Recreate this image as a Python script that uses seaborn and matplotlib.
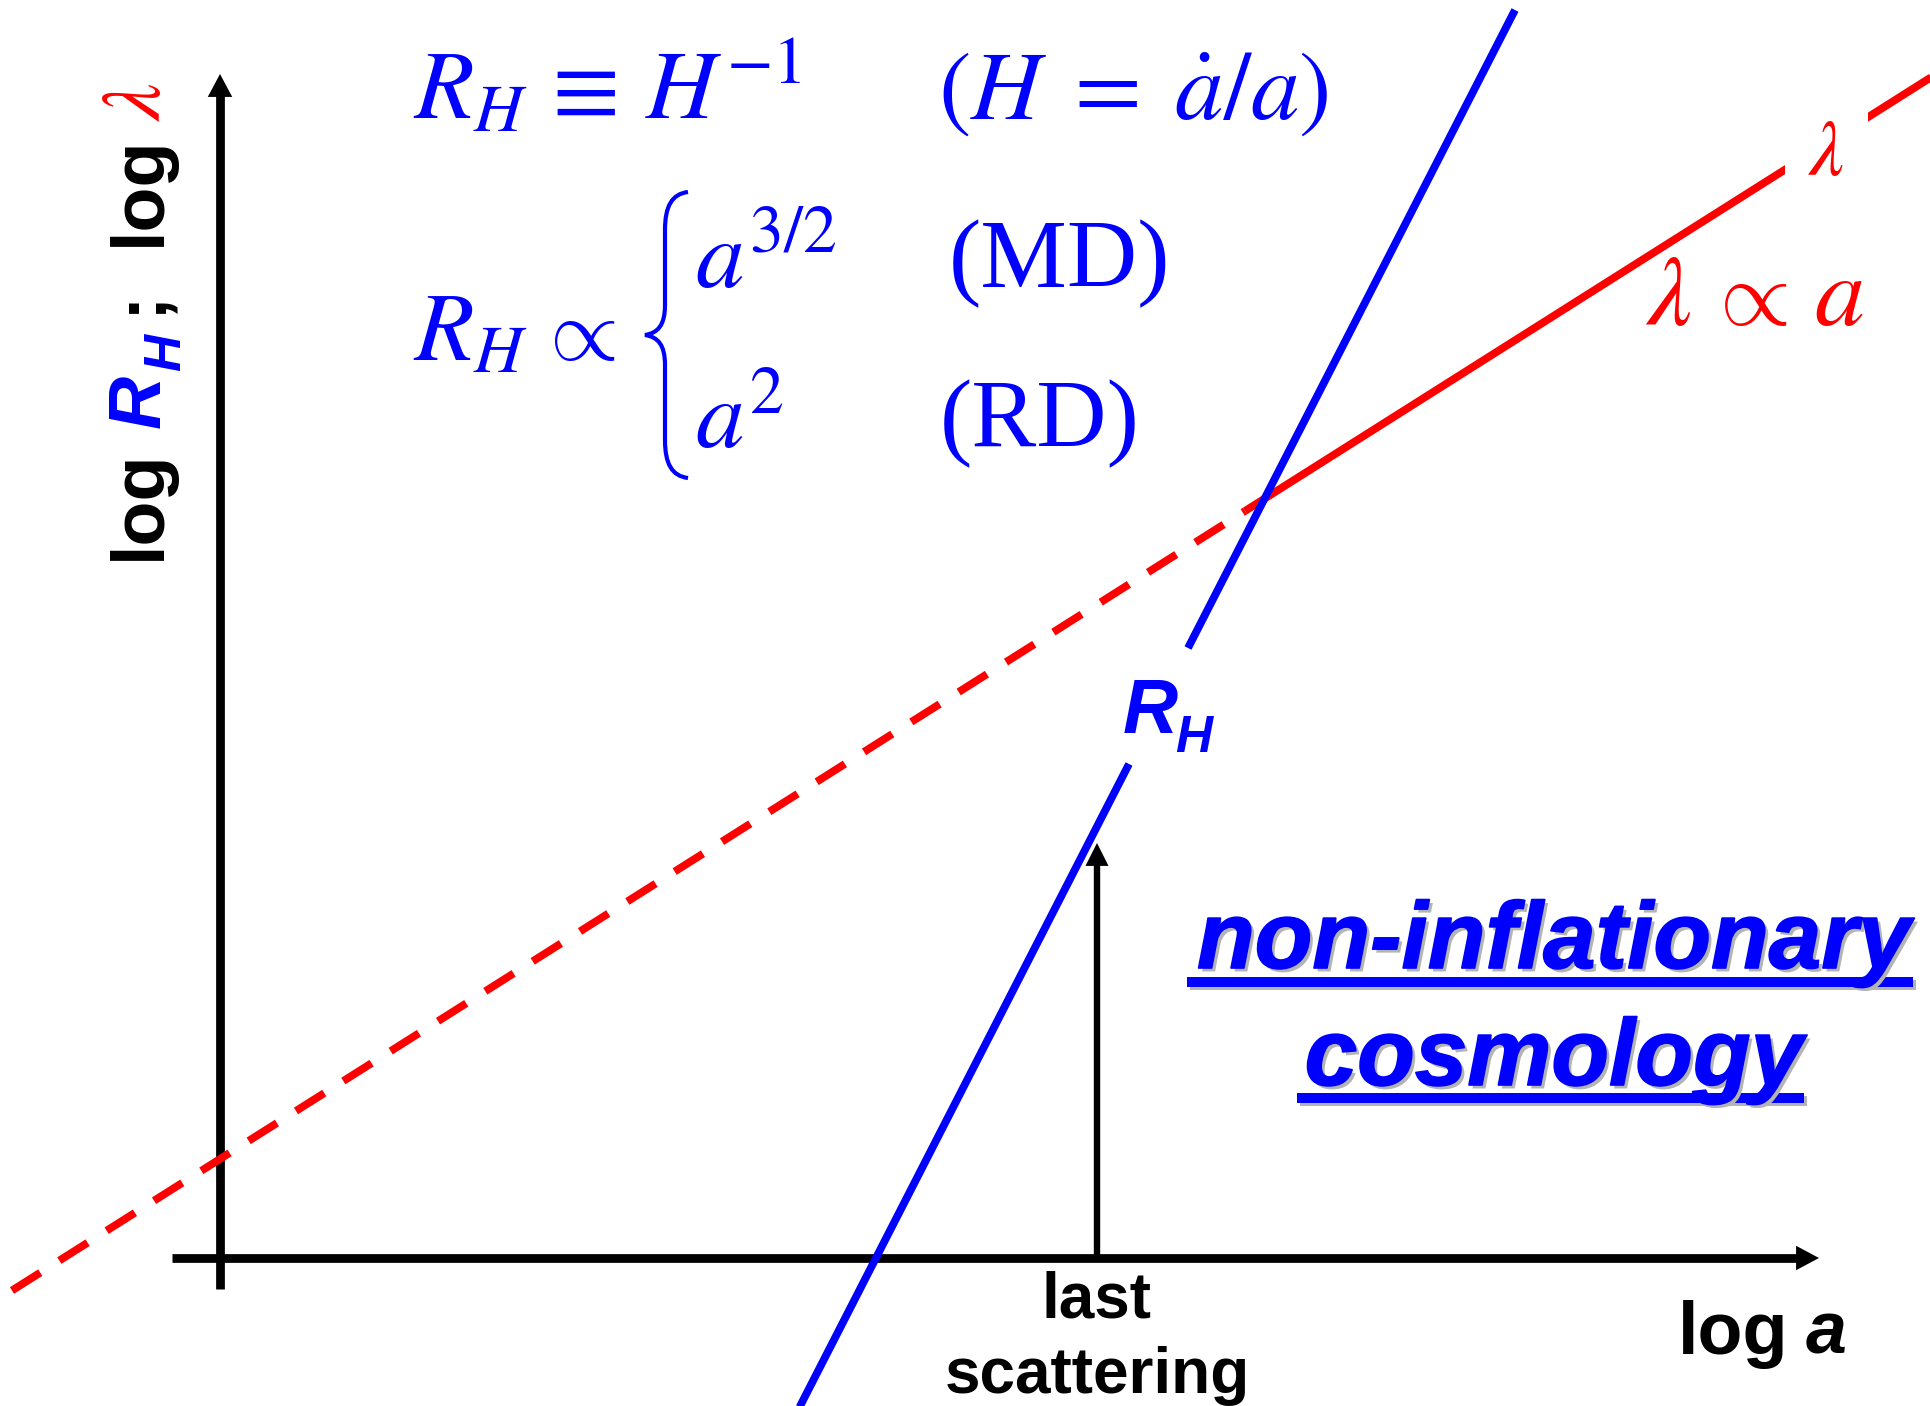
import matplotlib
matplotlib.use("Agg")
import matplotlib.pyplot as plt
import matplotlib.patheffects as pe
from matplotlib.path import Path
from matplotlib.patches import PathPatch
import seaborn as sns

# ---- values: log a on x, log length on y (axes cross at the origin) ----
lambda_dashed_loga = [-2.08, 10.25]
lambda_dashed_logl = [-0.325, 7.47]
lambda_solid_loga = [10.25, 17.40]
lambda_solid_logl = [7.47, 11.99]

rh_lower_loga = [5.75, 9.09]
rh_lower_logr = [-1.58, 4.94]
rh_upper_loga = [9.68, 12.95]
rh_upper_logr = [6.10, 12.48]

last_scattering_loga = [8.77, 8.77]
last_scattering_logr = [0.0, 4.15]

x_axis_loga = [-0.48, 15.99]
y_axis_logr = [-0.31, 11.84]

BLUE = "#0000ff"
RED = "#ff0000"
BLACK = "#000000"
SHADOW = "#b4b4b4"
SERIF = ["Liberation Serif", "DejaVu Serif"]

sns.set_theme(style="white")
plt.rcParams["font.family"] = ["Liberation Sans", "DejaVu Sans"]
plt.rcParams["mathtext.fontset"] = "stix"

fig = plt.figure(figsize=(19.31, 14.06), dpi=100)
ax = fig.add_axes([0, 0, 1, 1])
ax.set_xlim(-2.20, 17.11)
ax.set_ylim(-1.48, 12.58)
ax.axis("off")


def seg(x, y, color, lw, **kw):
    sns.lineplot(x=x, y=y, color=color, linewidth=lw, solid_capstyle="butt",
                 dash_capstyle="butt", ax=ax, estimator=None, sort=False,
                 errorbar=None, legend=False, **kw)


def head(tip, tail, length, half_width):
    ax.annotate("", xy=tip, xytext=tail,
                arrowprops=dict(arrowstyle=f"-|>,head_length={length},head_width={half_width}",
                                mutation_scale=1, lw=0, fc=BLACK, ec="none",
                                shrinkA=0, shrinkB=0))


# axes with arrow heads
seg([x_axis_loga[0], x_axis_loga[1] - 0.2], [0, 0], BLACK, 6.3)
head((x_axis_loga[1], 0), (x_axis_loga[1] - 0.5, 0), 16.5, 8.8)
seg([0, 0], [y_axis_logr[0], y_axis_logr[1] - 0.2], BLACK, 6.3)
head((0, y_axis_logr[1]), (0, y_axis_logr[1] - 0.5), 16.5, 8.8)

# wavelength: dashed before horizon entry, solid afterwards
seg(lambda_dashed_loga, lambda_dashed_logl, RED, 5.6, linestyle=(0, (4.3, 2.9)))
seg(lambda_solid_loga, lambda_solid_logl, RED, 5.6)

# Hubble radius
seg(rh_lower_loga, rh_lower_logr, BLUE, 5.6)
seg(rh_upper_loga, rh_upper_logr, BLUE, 5.6)

# last scattering marker
seg(last_scattering_loga, [last_scattering_logr[0], last_scattering_logr[1] - 0.2], BLACK, 4.6)
head((last_scattering_loga[1], last_scattering_logr[1]),
     (last_scattering_loga[1], last_scattering_logr[1] - 0.5), 16.5, 8.3)

# ---- equations ----
eq = dict(color=BLUE, fontsize=70, ha="left", va="baseline")
ax.text(1.93, 11.39, r"$R_H\,\equiv\,H^{-1}$", **eq)
ax.text(7.18, 11.39, r"$(H\;=\;\dot{a}/a)$", **eq)
ax.text(1.93, 8.98, r"$R_H$", **eq)
ax.text(3.14, 8.98, r"$\propto$", math_fontfamily="cm", color=BLUE, fontsize=64,
        ha="left", va="baseline")
ax.text(4.75, 9.70, r"$a^{3/2}$", **eq)
ax.text(7.29, 9.71, "(MD)", family=SERIF, **eq)
ax.text(4.75, 8.10, r"$a^{2}$", **eq)
ax.text(7.20, 8.11, "(RD)", family=SERIF, **eq)

brace_pts = [(4.68, 10.66), (4.52, 10.64), (4.45, 10.52), (4.45, 10.28),
             (4.45, 9.53),
             (4.45, 9.33), (4.38, 9.25), (4.25, 9.23),
             (4.38, 9.21), (4.45, 9.13), (4.45, 8.93),
             (4.45, 8.18),
             (4.45, 7.94), (4.52, 7.82), (4.68, 7.80)]
brace_codes = ([Path.MOVETO] + [Path.CURVE4] * 3 + [Path.LINETO]
               + [Path.CURVE4] * 6 + [Path.LINETO] + [Path.CURVE4] * 3)
ax.add_patch(PathPatch(Path(brace_pts, brace_codes), fill=False, ec=BLUE, lw=3.0))

# ---- curve labels ----
red_eq = dict(color=RED, fontsize=72, ha="left", va="baseline")
ax.text(14.25, 9.33, r"$\lambda$", **red_eq)
ax.text(14.83, 9.33, r"$\propto$", math_fontfamily="cm", color=RED, fontsize=66,
        ha="left", va="baseline")
ax.text(15.94, 9.33, r"$a$", **red_eq)
ax.text(15.88, 10.83, r"$\lambda$", color=RED, fontsize=56, ha="left", va="baseline",
        bbox=dict(boxstyle="square,pad=0.3", fc="white", ec="none"), zorder=5)
ax.text(9.03, 5.25, "R", color=BLUE, fontsize=55, fontweight="bold", fontstyle="italic",
        ha="left", va="baseline")
ax.text(9.55, 5.06, "H", color=BLUE, fontsize=37, fontweight="bold", fontstyle="italic",
        ha="left", va="baseline")

# ---- title block ----
title_fx = [pe.withSimplePatchShadow(offset=(2.5, -2.5), shadow_rgbFace=SHADOW, alpha=1.0),
            pe.Stroke(linewidth=1.2, foreground=BLUE), pe.Normal()]
for txt, yb in (("non-inflationary", 2.90), ("cosmology", 1.73)):
    ax.text(13.34, yb, txt, color=BLUE, fontsize=68, fontweight="bold", fontstyle="italic",
            ha="center", va="baseline", path_effects=title_fx)
ul_fx = [pe.SimpleLineShadow(offset=(2.5, -2.5), shadow_color=SHADOW, alpha=1.0), pe.Normal()]
seg([9.67, 16.93], [2.76, 2.76], BLUE, 7.2, path_effects=ul_fx)
seg([10.77, 15.84], [1.605, 1.605], BLUE, 7.2, path_effects=ul_fx)

# ---- axis labels ----
lab = dict(fontsize=53, fontweight="bold", ha="left", va="baseline")
ax.text(14.58, -0.96, "log", color=BLACK, **lab)
ax.text(15.86, -0.96, "a", color=BLACK, fontstyle="italic", **lab)

ax.text(8.77, -0.59, "last", color=BLACK, fontsize=46, fontweight="bold", ha="center", va="baseline")
ax.text(8.77, -1.35, "scattering", color=BLACK, fontsize=46, fontweight="bold", ha="center", va="baseline")

rot = dict(rotation=90, rotation_mode="anchor", ha="left", va="baseline")
ax.text(-0.60, 6.98, "log", color=BLACK, fontsize=53, fontweight="bold", **rot)
ax.text(-0.60, 8.30, "R", color=BLUE, fontsize=53, fontweight="bold", fontstyle="italic", **rot)
ax.text(-0.40, 8.87, "H", color=BLUE, fontsize=37, fontweight="bold", fontstyle="italic", **rot)
ax.text(-0.60, 9.44, ";", color=BLACK, fontsize=53, fontweight="bold", **rot)
ax.text(-0.60, 10.12, "log", color=BLACK, fontsize=53, fontweight="bold", **rot)
ax.text(-0.60, 11.36, r"$\lambda$", color=RED, fontsize=60, **rot)

fig.savefig("out.png", dpi=100)
